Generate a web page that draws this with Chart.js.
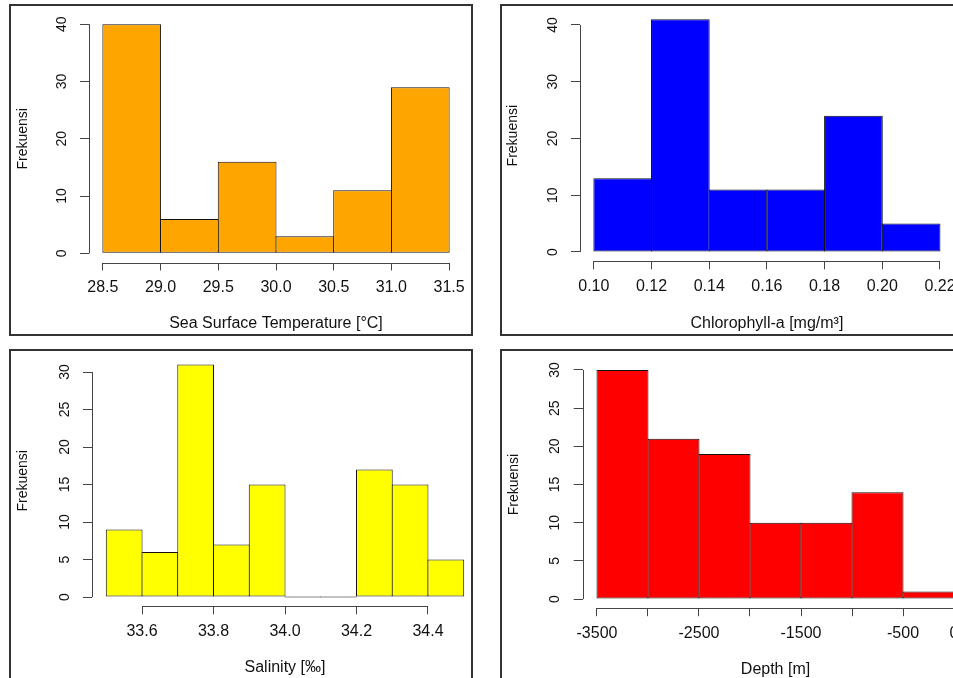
<!DOCTYPE html>
<html>
<head>
<meta charset="utf-8">
<script src="https://cdn.jsdelivr.net/npm/chart.js@4.4.1/dist/chart.umd.min.js"></script>
<style>
  html, body { margin: 0; padding: 0; background: #fff; overflow: hidden; }
  body { width: 953px; height: 678px; position: relative; }
  .frame { position: absolute; border: 2px solid #333; box-sizing: border-box; }
  canvas { position: absolute; }
</style>
</head>
<body>
<div class="frame" style="left:9px;top:4px;width:464px;height:332px"></div>
<div class="frame" style="left:500px;top:4px;width:480px;height:332px"></div>
<div class="frame" style="left:9px;top:349px;width:464px;height:340px"></div>
<div class="frame" style="left:500px;top:349px;width:480px;height:340px"></div>

<canvas id="sst" width="490" height="340" style="left:0;top:0;width:490px;height:340px"></canvas>
<canvas id="chl" width="490" height="340" style="left:490px;top:0;width:490px;height:340px"></canvas>
<canvas id="sal" width="490" height="338" style="left:0;top:340px;width:490px;height:338px"></canvas>
<canvas id="dep" width="490" height="338" style="left:490px;top:340px;width:490px;height:338px"></canvas>

<script>
// Sea Surface Temperature histogram
const sstBins = [28.75, 29.25, 29.75, 30.25, 30.75, 31.25];
const sstCounts = [40, 6, 16, 3, 11, 29];
const sstTicks = [28.5, 29.0, 29.5, 30.0, 30.5, 31.0, 31.5];
const sstTickLabels = ['28.5', '29.0', '29.5', '30.0', '30.5', '31.0', '31.5'];
const sstYTicks = [0, 10, 20, 30, 40];

// Chlorophyll-a histogram
const chlBins = [0.11, 0.13, 0.15, 0.17, 0.19, 0.21];
const chlCounts = [13, 41, 11, 11, 24, 5];
const chlTicks = [0.10, 0.12, 0.14, 0.16, 0.18, 0.20, 0.22];
const chlTickLabels = ['0.10', '0.12', '0.14', '0.16', '0.18', '0.20', '0.22'];
const chlYTicks = [0, 10, 20, 30, 40];

// Salinity histogram
const salBins = [33.55, 33.65, 33.75, 33.85, 33.95, 34.05, 34.15, 34.25, 34.35, 34.45];
const salCounts = [9, 6, 31, 7, 15, 0, 0, 17, 15, 5];
const salTicks = [33.6, 33.8, 34.0, 34.2, 34.4];
const salTickLabels = ['33.6', '33.8', '34.0', '34.2', '34.4'];
const salYTicks = [0, 5, 10, 15, 20, 25, 30];

// Depth histogram
const depBins = [-3250, -2750, -2250, -1750, -1250, -750, -250];
const depCounts = [30, 21, 19, 10, 10, 14, 1];
const depTicks = [-3500, -3000, -2500, -2000, -1500, -1000, -500, 0];
const depTickLabels = ['-3500', '', '-2500', '', '-1500', '', '-500', '0'];
const depYTicks = [0, 5, 10, 15, 20, 25, 30];

const FONT = "'Liberation Sans', Arial, sans-serif";
const AXIS_COLOR = '#444';
const TEXT_COLOR = '#111';

// draws the R-style axis lines, from first to last tick only
const axisLines = {
  id: 'axisLines',
  afterDraw(chart) {
    const {ctx, chartArea, scales} = chart;
    const x = scales.x, y = scales.y;
    ctx.save();
    ctx.strokeStyle = AXIS_COLOR;
    ctx.lineWidth = 1;
    ctx.beginPath();
    const yl = Math.round(chartArea.left) + 0.5;
    ctx.moveTo(yl, y.getPixelForValue(y.ticks[0].value));
    ctx.lineTo(yl, y.getPixelForValue(y.ticks[y.ticks.length - 1].value));
    const xb = Math.round(chartArea.bottom) + 0.5;
    ctx.moveTo(x.getPixelForValue(x.ticks[0].value), xb);
    ctx.lineTo(x.getPixelForValue(x.ticks[x.ticks.length - 1].value), xb);
    ctx.stroke();
    ctx.restore();
  }
};

function makeHist(id, bins, counts, color, xTicks, xLabels, yTicks, xTitle, cfg) {
  const canvas = document.getElementById(id);
  const W = canvas.width, H = canvas.height;
  const binW = bins[1] - bins[0];
  const lo = bins[0] - binW / 2, hi = bins[bins.length - 1] + binW / 2;
  const xExt = (hi - lo) * 0.04;
  const yMax = Math.max(...counts);
  const yExt = yMax * 0.04;
  const area = cfg.area;
  const binPx = (area.right - area.left) / (hi - lo + 2 * xExt) * binW;

  return new Chart(canvas, {
    type: 'bar',
    data: {
      datasets: [{
        data: bins.map((b, i) => ({x: b, y: counts[i]})),
        backgroundColor: color,
        borderColor: '#111',
        borderWidth: 1,
        borderSkipped: false,
        minBarLength: 1,
        barPercentage: (binPx + 1) / binPx,
        categoryPercentage: 1,
      }],
    },
    options: {
      responsive: false,
      animation: false,
      layout: { padding: { left: 0, top: area.top, right: W - area.right, bottom: 0 } },
      plugins: { legend: { display: false }, tooltip: { enabled: false } },
      scales: {
        x: {
          type: 'linear',
          min: lo - xExt,
          max: hi + xExt,
          offset: false,
          grid: { offset: false, drawOnChartArea: false, drawTicks: true, tickLength: 8, color: AXIS_COLOR },
          border: { display: false },
          afterBuildTicks: s => { s.ticks = xTicks.map(v => ({value: v})); },
          afterFit: s => { s.height = H - area.bottom; s.paddingLeft = 0; s.paddingRight = 0; },
          ticks: {
            autoSkip: false, maxRotation: 0, minRotation: 0, padding: cfg.xTickPad,
            color: TEXT_COLOR, font: { family: FONT, size: 16 },
            callback: (v, i) => xLabels[i],
          },
          title: {
            display: true, text: xTitle, color: TEXT_COLOR,
            font: { family: FONT, size: 16 },
            padding: { top: 0, bottom: cfg.xTitlePad },
          },
        },
        y: {
          min: -yExt,
          max: yMax + yExt,
          grid: { drawOnChartArea: false, drawTicks: true, tickLength: 9, color: AXIS_COLOR },
          border: { display: false },
          afterBuildTicks: s => { s.ticks = yTicks.map(v => ({value: v})); },
          afterFit: s => { s.width = area.left; s.paddingTop = 0; s.paddingBottom = 0; },
          ticks: {
            minRotation: 90, maxRotation: 90, crossAlign: 'center', padding: 10.5,
            color: TEXT_COLOR, font: { family: FONT, size: 14 },
            callback: v => String(v),
          },
          title: {
            display: true, text: 'Frekuensi', color: TEXT_COLOR,
            font: { family: FONT, size: 14 },
            padding: { top: cfg.yTitlePad, bottom: 0 },
          },
        },
      },
    },
    plugins: [axisLines],
  });
}

makeHist('sst', sstBins, sstCounts, '#FFA500', sstTicks, sstTickLabels, sstYTicks,
  'Sea Surface Temperature [°C]',
  { area: {left: 89, top: 15, right: 463, bottom: 262.5}, xTickPad: 7.5, xTitlePad: 6.9, yTitlePad: 14.4 });

makeHist('chl', chlBins, chlCounts, '#0000FF', chlTicks, chlTickLabels, chlYTicks,
  'Chlorophyll-a [mg/m³]',
  { area: {left: 90, top: 10, right: 463.8, bottom: 261.3}, xTickPad: 8, xTitlePad: 6.9, yTitlePad: 15.2 });

makeHist('sal', salBins, salCounts, '#FFFF00', salTicks, salTickLabels, salYTicks,
  'Salinity [‰]',
  { area: {left: 92, top: 15.2, right: 478, bottom: 266.3}, xTickPad: 8, xTitlePad: 0.5, yTitlePad: 14.3 });

makeHist('dep', depBins, depCounts, '#FF0000', depTicks, depTickLabels, depYTicks,
  'Depth [m]',
  { area: {left: 92.7, top: 20.8, right: 478.3, bottom: 268.2}, xTickPad: 8, xTitlePad: -1, yTitlePad: 16.2 });
</script>
</body>
</html>
